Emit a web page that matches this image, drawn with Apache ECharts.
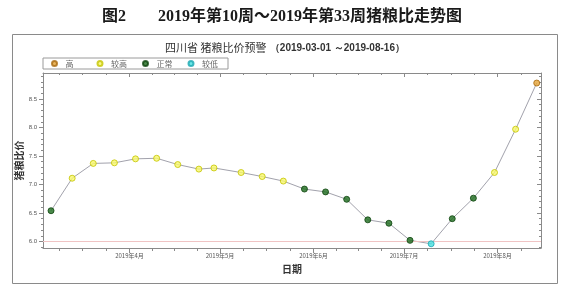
<!DOCTYPE html>
<html>
<head>
<meta charset="utf-8">
<script src="https://cdn.jsdelivr.net/npm/echarts@6/dist/echarts.min.js"></script>
<style>
html,body{margin:0;padding:0;background:#fff;}
#c{width:576px;height:291px;}
</style>
</head>
<body>
<div id="c"></div>
<script>
// ---- data ----
var dates = ['2019-03-06','2019-03-13','2019-03-20','2019-03-27','2019-04-03','2019-04-10',
  '2019-04-17','2019-04-24','2019-04-29','2019-05-08','2019-05-15','2019-05-22',
  '2019-05-29','2019-06-05','2019-06-12','2019-06-19','2019-06-26','2019-07-03',
  '2019-07-10','2019-07-17','2019-07-24','2019-07-31','2019-08-07','2019-08-14'];
var ratios = [6.54,7.11,7.37,7.38,7.45,7.46,7.35,7.27,7.29,7.21,7.14,7.06,
  6.92,6.87,6.74,6.38,6.32,6.02,5.96,6.40,6.76,7.21,7.97,8.78];
var levels = ['正常','较高','较高','较高','较高','较高','较高','较高','较高','较高','较高','较高',
  '正常','正常','正常','正常','正常','正常','较低','正常','正常','较高','较高','高'];
var levelNames = ['高','较高','正常','较低'];
var yTickLabels = [6.0,6.5,7.0,7.5,8.0,8.5];
var monthTicks = ['2019-04-01','2019-05-01','2019-06-01','2019-07-01','2019-08-01'];
var warnLine = 6.0;
var mainTitleLeft = '图2';
var mainTitleRight = '2019年第10周～2019年第33周猪粮比走势图';
var chartTitleCn = '四川省 猪粮比价预警';
var chartTitleDate = '（2019-03-01 ～2019-08-16）';

// ---- helpers ----
function ts(s){var p=s.split('-');return new Date(+p[0],+p[1]-1,+p[2]).getTime();}
var xMin = new Date(2019,2,3,8).getTime();
var xMax = new Date(2019,7,15,10).getTime();
var monthTs = monthTicks.map(ts);
var minorX = [];
for (var m=1;m<=7;m++){
  var a=new Date(2019,m,1).getTime(), b=new Date(2019,m+1,1).getTime();
  for (var k=1;k<4;k++){var t=a+(b-a)*k/4; if(t>xMin&&t<xMax) minorX.push(t);}
}
var yMin=5.886, yMax=8.956;
var minorY=[];
for (var v=59;v<=89;v++){var y=v/10; if(y>yMin&&y<yMax && Math.abs(y*2-Math.round(y*2))>1e-6) minorY.push(y);}

var styles = {
  '高':  {color:'#e3a336', borderColor:'#a8690f'},
  '较高':{color:'#f7f76a', borderColor:'#c4c400'},
  '正常':{color:'#1d6b1d', borderColor:'#0c430c'},
  '较低':{color:'#46e0e0', borderColor:'#1aa6b0'}
};

var lineData = dates.map(function(d,i){return [ts(d), ratios[i]];});
var scatterSeries = levelNames.map(function(name){
  var data=[];
  dates.forEach(function(d,i){ if(levels[i]===name) data.push([ts(d), ratios[i]]); });
  return {
    name:name, type:'scatter', data:data, symbol:'circle', symbolSize:6,
    xAxisIndex:0, yAxisIndex:0, z:5,
    itemStyle:{color:styles[name].color, borderColor:styles[name].borderColor, borderWidth:1},
    emphasis:{disabled:true}
  };
});

var axisGray = '#8a8a8a';
var lblColor = '#555';
var serifBold = 'bold 16px "Liberation Serif", "Noto Sans CJK SC"';
function fmtMonth(v){var d=new Date(v);return d.getFullYear()+'年'+(d.getMonth()+1)+'月';}

var chart = echarts.init(document.getElementById('c'), null, {renderer:'canvas'});
chart.setOption({
  animation:false,
  backgroundColor:'#fff',
  grid:{left:43, right:35, top:73, bottom:43, containLabel:false},
  legend:{
    data:levelNames, left:43, top:58, orient:'horizontal',
    itemWidth:12, itemHeight:5, itemGap:15, icon:'circle',
    padding:[1,10,1,8], borderColor:'#9a9a9a', borderWidth:1,
    selectedMode:false,
    textStyle:{fontSize:8, color:'#666', width:16, lineHeight:9, fontFamily:'Noto Sans CJK SC'}
  },
  xAxis:[
    {type:'value', position:'bottom', min:xMin, max:xMax, scale:true,
     axisLine:{show:true, onZero:false, lineStyle:{color:axisGray, width:1}},
     axisTick:{show:true, customValues:monthTs, length:5, inside:false, lineStyle:{color:axisGray}},
     axisLabel:{show:true, customValues:monthTs, formatter:fmtMonth, fontSize:6, color:lblColor, margin:5, fontFamily:'Noto Sans CJK SC'},
     splitLine:{show:false},
     name:'日期', nameLocation:'middle', nameGap:16,
     nameTextStyle:{fontSize:10, fontWeight:'bold', color:'#333', fontFamily:'Noto Sans CJK SC'}
    },
    {type:'value', position:'bottom', min:xMin, max:xMax, scale:true,
     axisLine:{show:false, onZero:false}, axisLabel:{show:false}, splitLine:{show:false},
     axisTick:{show:true, customValues:minorX, length:3, inside:false, lineStyle:{color:axisGray}}
    },
    {type:'value', position:'top', min:xMin, max:xMax, scale:true,
     axisLine:{show:true, onZero:false, lineStyle:{color:axisGray, width:1}}, axisLabel:{show:false}, splitLine:{show:false},
     axisTick:{show:true, customValues:monthTs, length:4, inside:true, lineStyle:{color:axisGray}}
    },
    {type:'value', position:'top', min:xMin, max:xMax, scale:true,
     axisLine:{show:false, onZero:false}, axisLabel:{show:false}, splitLine:{show:false},
     axisTick:{show:true, customValues:minorX, length:2, inside:true, lineStyle:{color:axisGray}}
    }
  ],
  yAxis:[
    {type:'value', position:'left', min:yMin, max:yMax, scale:true,
     axisLine:{show:true, onZero:false, lineStyle:{color:axisGray, width:1}},
     axisTick:{show:true, customValues:yTickLabels, length:4, inside:false, lineStyle:{color:axisGray}},
     axisLabel:{show:true, customValues:yTickLabels, formatter:function(v){return (+v).toFixed(1);}, fontSize:6, color:lblColor, margin:6},
     splitLine:{show:false},
     name:'猪粮比价', nameLocation:'middle', nameGap:19, nameRotate:90, nameMoveOverlap:false,
     nameTextStyle:{fontSize:10, fontWeight:'bold', color:'#333', fontFamily:'Noto Sans CJK SC'}
    },
    {type:'value', position:'left', min:yMin, max:yMax, scale:true,
     axisLine:{show:false, onZero:false}, axisLabel:{show:false}, splitLine:{show:false},
     axisTick:{show:true, customValues:minorY, length:2, inside:false, lineStyle:{color:axisGray}}
    },
    {type:'value', position:'right', min:yMin, max:yMax, scale:true,
     axisLine:{show:true, onZero:false, lineStyle:{color:axisGray, width:1}}, axisLabel:{show:false}, splitLine:{show:false},
     axisTick:{show:true, customValues:yTickLabels, length:4, inside:true, lineStyle:{color:axisGray}}
    },
    {type:'value', position:'right', min:yMin, max:yMax, scale:true,
     axisLine:{show:false, onZero:false}, axisLabel:{show:false}, splitLine:{show:false},
     axisTick:{show:true, customValues:minorY, length:2, inside:true, lineStyle:{color:axisGray}}
    }
  ],
  series:[
    {type:'line', data:lineData, xAxisIndex:0, yAxisIndex:0, symbol:'none', z:3,
     lineStyle:{color:'#a2a2ac', width:1}, emphasis:{disabled:true},
     markLine:{silent:true, symbol:'none', label:{show:false},
       lineStyle:{color:'#f0c4c4', width:1, type:'solid'},
       data:[{yAxis:warnLine}]}
    }
  ].concat(scatterSeries),
  graphic:[
    {type:'text', left:102, top:9, style:{text:mainTitleLeft, font:serifBold, fill:'#1a1a1a'}},
    {type:'text', left:158, top:9, style:{text:mainTitleRight, font:serifBold, fill:'#1a1a1a'}},
    {type:'rect', shape:{x:12.5, y:34.5, width:545, height:249}, style:{fill:'none', stroke:'#8a8a8a', lineWidth:1}, z:-1},
    {type:'text', x:285, y:48, style:{
      text:'{a|'+chartTitleCn+'} {b|'+chartTitleDate+'}',
      align:'center', verticalAlign:'middle',
      rich:{a:{fontSize:11, fontFamily:'Noto Sans CJK SC', fill:'#333', color:'#333'},
            b:{fontSize:10, fontWeight:'bold', fontFamily:'Liberation Sans', color:'#333', fill:'#333'}}
    }}
  ]
});
</script>
</body>
</html>
